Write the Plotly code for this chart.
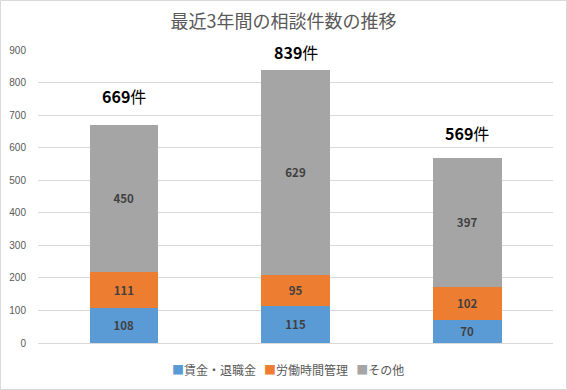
import plotly.graph_objects as go

categories = ["1年目", "2年目", "3年目"]
wage = [108, 115, 70]
hours = [111, 95, 102]
other = [450, 629, 397]
totals = [669, 839, 569]
series_names = ["賃金・退職金", "労働時間管理", "その他"]
colors = ["#5B9BD5", "#ED7D31", "#A5A5A5"]

font_jp = "Noto Sans CJK JP, Noto Sans, sans-serif"

# pixel offsets of the total labels above each bar (style, not data)
label_offsets_px = [29, 18, 25]

fig = go.Figure()
for name, vals, col in zip(series_names, [wage, hours, other], colors):
    fig.add_trace(go.Bar(
        x=categories, y=vals, name=name, marker=dict(color=col, line=dict(width=0)),
        text=[str(v) for v in vals], textposition="inside", insidetextanchor="middle",
        textangle=0,
        textfont=dict(family=font_jp, size=13, color="#404040"),
        texttemplate="<b>%{text}</b>", width=0.4,
    ))

for c, t, off in zip(categories, totals, label_offsets_px):
    fig.add_annotation(x=c, y=t, text=f"<b>{t}</b>件", showarrow=False,
                       yanchor="middle", yshift=off,
                       font=dict(family=font_jp, size=16, color="#000000"))

# legend drawn as a single centered line
legend_text = "   ".join(
    f"<span style='color:{col}'>■</span>{name}" for name, col in zip(series_names, colors)
)
fig.add_annotation(x=0.485, y=-26/293, xref="paper", yref="paper", text=legend_text,
                   showarrow=False, xanchor="center", yanchor="middle",
                   font=dict(family=font_jp, size=12, color="#595959"))

fig.update_layout(
    barmode="stack",
    width=567, height=390,
    margin=dict(l=38, r=14, t=50, b=47, autoexpand=False),
    paper_bgcolor="white", plot_bgcolor="white",
    title=dict(text="最近3年間の相談件数の推移", x=0.5, xanchor="center", y=1 - 22/390, yanchor="middle",
               font=dict(family=font_jp, size=18, color="#595959")),
    showlegend=False,
    bargap=0.6,
    uniformtext=dict(mode="show", minsize=8),
)
fig.update_xaxes(showticklabels=False, showgrid=False, showline=True, linecolor="#D9D9D9", ticks="",
                 automargin=False)
fig.update_yaxes(range=[0, 900], dtick=100, showgrid=True, gridcolor="#D9D9D9", zeroline=False,
                 tickfont=dict(family="Liberation Sans, Arial, sans-serif", size=10, color="#595959"),
                 ticks="", showline=False, ticklabelstandoff=11, automargin=False)
fig.add_shape(type="rect", xref="paper", yref="paper",
              x0=-37.5/515, x1=1+13.5/515, y0=-46.5/293, y1=1+49.5/293,
              line=dict(color="#D9D9D9", width=1), fillcolor="rgba(0,0,0,0)")

fig.write_html("out.html", config={"displayModeBar": False},
               post_script="document.body.style.margin='0';document.body.style.overflow='hidden';")
